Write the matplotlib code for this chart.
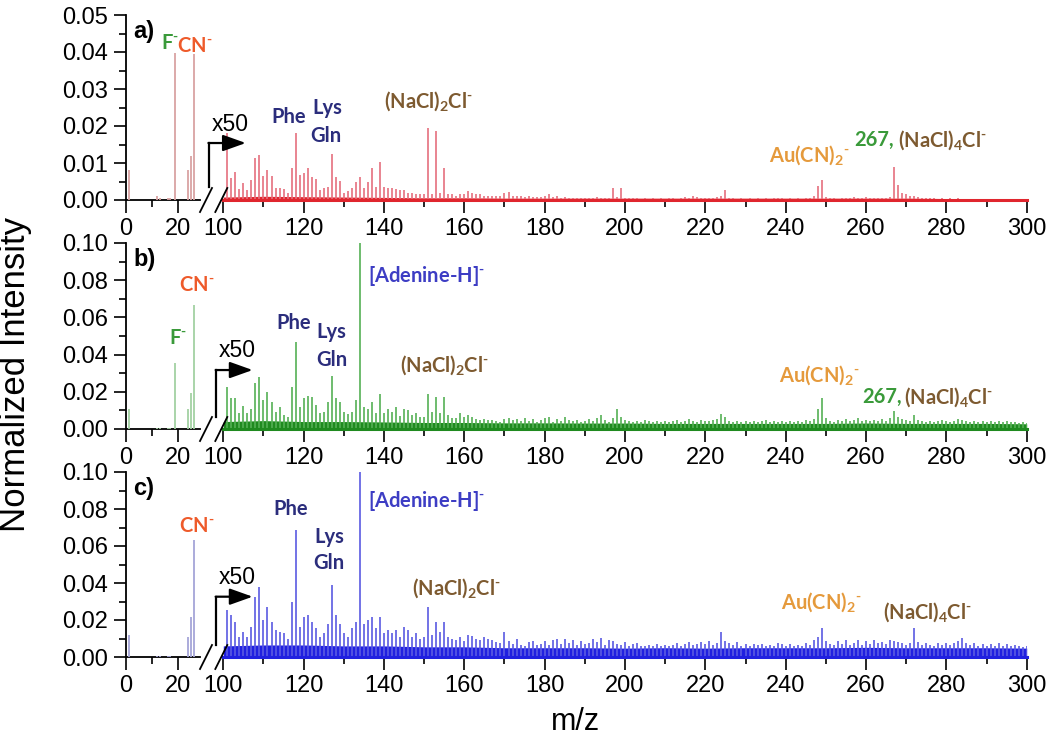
import matplotlib.pyplot as plt
import numpy as np

plt.rcParams['font.family'] = ['Liberation Sans', 'DejaVu Sans']
plt.rcParams['mathtext.fontset'] = 'custom'
plt.rcParams['mathtext.rm'] = 'Lato:bold'
plt.rcParams['mathtext.bf'] = 'Lato:bold'
plt.rcParams['mathtext.it'] = 'Lato:bold'
plt.rcParams['mathtext.default'] = 'rm'

# ---- data: low mass window (raw intensity) ----
mz_lo = [1, 12, 13, 16, 17, 19, 24, 25, 26]
a_lo = [0.008, 0.0012, 0.0006, 0.0005, 0.0006, 0.0397, 0.008, 0.012, 0.0395]
b_lo = [0.011, 0.0008, 0.0005, 0.0004, 0.0005, 0.0353, 0.011, 0.0192, 0.0667]
c_lo = [0.0118, 0.0008, 0.0005, 0.0004, 0.0005, 0.0, 0.011, 0.0218, 0.0632]

# ---- data: m/z 101-300, intensity already multiplied by 50 ----
mz_hi = list(range(101, 301))

a_hi = [0.018, 0.0059, 0.0077, 0.003, 0.0045, 0.0027, 0.0054, 0.0113, 0.0122, 0.0065,
        0.008, 0.0065, 0.0032, 0.0032, 0.003, 0.0018, 0.0086, 0.018, 0.0068, 0.0072,
        0.0086, 0.0061, 0.0057, 0.0027, 0.0032, 0.0036, 0.0123, 0.0061, 0.0052, 0.0018,
        0.0023, 0.0032, 0.005, 0.0063, 0.0032, 0.005, 0.0086, 0.0034, 0.0102, 0.0034,
        0.0032, 0.0032, 0.003, 0.0028, 0.0027, 0.002, 0.0018, 0.0015, 0.0015, 0.0015,
        0.0194, 0.0015, 0.0187, 0.002, 0.0086, 0.0015, 0.0015, 0.001, 0.0015, 0.0015,
        0.0025, 0.0018, 0.0015, 0.0015, 0.0012, 0.0012, 0.001, 0.0012, 0.001, 0.0018,
        0.0022, 0.001, 0.0012, 0.001, 0.0008, 0.001, 0.0008, 0.0007, 0.0008, 0.001,
        0.0015, 0.0008, 0.001, 0.0006, 0.0008, 0.0006, 0.0006, 0.0005, 0.0006, 0.0005,
        0.0006, 0.0005, 0.0008, 0.0005, 0.0006, 0.0005, 0.0032, 0.0008, 0.0032, 0.0006,
        0.0006, 0.0005, 0.0005, 0.0004, 0.0005, 0.0004, 0.0005, 0.0004, 0.0005, 0.0004,
        0.0005, 0.0006, 0.0004, 0.0005, 0.0008, 0.0006, 0.0012, 0.0008, 0.0006, 0.0005,
        0.0006, 0.0005, 0.0008, 0.001, 0.0027, 0.0006, 0.0005, 0.0004, 0.0005, 0.0004,
        0.0005, 0.0004, 0.0005, 0.0004, 0.0005, 0.0004, 0.0005, 0.0006, 0.0005, 0.0004,
        0.0005, 0.0004, 0.0005, 0.0004, 0.0005, 0.0006, 0.001, 0.0038, 0.0054, 0.0008,
        0.0006, 0.0005, 0.0004, 0.0005, 0.0006, 0.0005, 0.0008, 0.0006, 0.0005, 0.0008,
        0.0006, 0.0005, 0.0006, 0.0005, 0.0006, 0.0008, 0.009, 0.004, 0.002, 0.0015,
        0.001, 0.0012, 0.0008, 0.0006, 0.0005, 0.0005, 0.0006, 0.0004, 0.0005, 0.0004,
        0.0005, 0.0004, 0.0005, 0.0004, 0.0004, 0.0003, 0.0004, 0.0003, 0.0004, 0.0003,
        0.0003, 0.0004, 0.0003, 0.0003, 0.0003, 0.0003, 0.0003, 0.0002, 0.0002, 0.0002]

b_hi = [0.0228, 0.0165, 0.0165, 0.0084, 0.0124, 0.0084, 0.011, 0.0245, 0.028, 0.0156,
        0.02, 0.0147, 0.0093, 0.0116, 0.0075, 0.0066, 0.0228, 0.047, 0.012, 0.0165,
        0.018, 0.0174, 0.013, 0.0084, 0.0093, 0.0147, 0.0285, 0.0165, 0.0147, 0.0093,
        0.008, 0.0093, 0.0156, 0.1, 0.012, 0.011, 0.0147, 0.0084, 0.0188, 0.0084,
        0.0105, 0.0093, 0.012, 0.007, 0.0105, 0.0102, 0.0075, 0.0084, 0.0063, 0.0063,
        0.0188, 0.0093, 0.0174, 0.0084, 0.0174, 0.0075, 0.006, 0.006, 0.0084, 0.0066,
        0.0075, 0.0066, 0.0055, 0.005, 0.0055, 0.005, 0.005, 0.0045, 0.004, 0.0055,
        0.006, 0.0048, 0.0055, 0.0042, 0.006, 0.0045, 0.0055, 0.004, 0.005, 0.0058,
        0.0062, 0.004, 0.0055, 0.0045, 0.0065, 0.005, 0.0042, 0.005, 0.0038, 0.0045,
        0.0055, 0.0042, 0.006, 0.0075, 0.0048, 0.004, 0.006, 0.011, 0.0065, 0.005,
        0.0042, 0.0038, 0.0045, 0.0036, 0.005, 0.0042, 0.0038, 0.0045, 0.0036, 0.0045,
        0.0038, 0.0045, 0.005, 0.0036, 0.0045, 0.0055, 0.0042, 0.0038, 0.005, 0.0042,
        0.0045, 0.005, 0.0055, 0.008, 0.0065, 0.0042, 0.0038, 0.0045, 0.0036, 0.0045,
        0.0038, 0.0045, 0.0036, 0.0045, 0.005, 0.0038, 0.0045, 0.0036, 0.0045, 0.0038,
        0.0045, 0.0036, 0.0045, 0.0038, 0.005, 0.0042, 0.0055, 0.0105, 0.0165, 0.006,
        0.0042, 0.0038, 0.005, 0.0042, 0.0055, 0.0042, 0.005, 0.006, 0.0042, 0.005,
        0.0042, 0.005, 0.0042, 0.0055, 0.0045, 0.006, 0.0095, 0.0065, 0.0055, 0.005,
        0.0042, 0.0075, 0.005, 0.0042, 0.0038, 0.0045, 0.0036, 0.0045, 0.005, 0.0042,
        0.0038, 0.0045, 0.0055, 0.005, 0.0042, 0.0038, 0.0045, 0.0036, 0.0045, 0.0038,
        0.0045, 0.0036, 0.0045, 0.0038, 0.0045, 0.0036, 0.004, 0.0034, 0.0038, 0.0034]

c_hi = [0.0254, 0.0227, 0.019, 0.011, 0.0137, 0.011, 0.0164, 0.0326, 0.038, 0.02,
        0.0272, 0.019, 0.0146, 0.0137, 0.0128, 0.01, 0.03, 0.0686, 0.0164, 0.0218,
        0.0227, 0.019, 0.0155, 0.011, 0.0128, 0.018, 0.039, 0.0227, 0.018, 0.0128,
        0.011, 0.0155, 0.019, 0.1, 0.018, 0.02, 0.0218, 0.0155, 0.0218, 0.0128,
        0.0146, 0.0128, 0.0146, 0.011, 0.016, 0.0146, 0.011, 0.0128, 0.01, 0.011,
        0.0272, 0.012, 0.019, 0.0137, 0.019, 0.011, 0.01, 0.009, 0.0106, 0.0088,
        0.012, 0.0114, 0.01, 0.009, 0.011, 0.01, 0.009, 0.0083, 0.0077, 0.0137,
        0.0085, 0.007, 0.0095, 0.0065, 0.006, 0.008, 0.0085, 0.0065, 0.007, 0.0085,
        0.0065, 0.009, 0.0095, 0.007, 0.0095, 0.0075, 0.009, 0.0065, 0.0085, 0.007,
        0.0075, 0.0095, 0.008, 0.0105, 0.0065, 0.009, 0.0085, 0.007, 0.0065, 0.008,
        0.006, 0.007, 0.0075, 0.006, 0.0058, 0.0065, 0.006, 0.007, 0.006, 0.0065,
        0.006, 0.0065, 0.0075, 0.006, 0.007, 0.008, 0.0065, 0.007, 0.008, 0.007,
        0.0085, 0.0065, 0.0075, 0.0135, 0.0085, 0.0075, 0.0065, 0.008, 0.006, 0.007,
        0.006, 0.007, 0.0065, 0.007, 0.006, 0.0065, 0.006, 0.0075, 0.007, 0.006,
        0.007, 0.006, 0.0065, 0.006, 0.0075, 0.0065, 0.009, 0.011, 0.0157, 0.0085,
        0.007, 0.0065, 0.0085, 0.007, 0.009, 0.0065, 0.0075, 0.009, 0.0065, 0.0085,
        0.007, 0.009, 0.0075, 0.008, 0.007, 0.009, 0.0085, 0.008, 0.0075, 0.0065,
        0.0075, 0.0157, 0.008, 0.0065, 0.0075, 0.0065, 0.006, 0.0075, 0.0065, 0.0075,
        0.0065, 0.0075, 0.0085, 0.0105, 0.0075, 0.0065, 0.0075, 0.006, 0.007, 0.006,
        0.007, 0.006, 0.0075, 0.006, 0.007, 0.006, 0.0065, 0.006, 0.0055, 0.006]

# dense noise floor under the spikes (x50), read every 10 m/z
mz_band = list(range(100, 301, 10))
a_band = [0.0008, 0.001, 0.0009, 0.0008, 0.0007, 0.0006, 0.0006, 0.0005, 0.0005, 0.0005, 0.0005,
          0.0005, 0.0005, 0.0005, 0.0005, 0.0005, 0.0005, 0.0005, 0.0004, 0.0004, 0.0004]
b_band = [0.004, 0.0045, 0.004, 0.004, 0.0038, 0.0035, 0.0035, 0.0033, 0.0033, 0.0032, 0.0032,
          0.003, 0.003, 0.003, 0.003, 0.003, 0.0032, 0.003, 0.003, 0.003, 0.0028]
c_band = [0.006, 0.0065, 0.0065, 0.006, 0.006, 0.0055, 0.0055, 0.005, 0.005, 0.005, 0.0048,
          0.005, 0.0048, 0.005, 0.005, 0.005, 0.0052, 0.005, 0.005, 0.005, 0.0048]

assert len(a_hi) == len(b_hi) == len(c_hi) == len(mz_hi)

C_F = '#3a9a3a'
C_CN = '#ee5a2a'
C_AA = '#2b2d7c'
C_NACL = '#7d5a30'
C_AU = '#e59a3c'
C_ADE = '#3d3dc4'

NEG = '$^{\u2010}$'
F_ION = 'F' + NEG
CN_ION = 'CN' + NEG
NACL2 = '(NaCl)$_{2}$Cl' + NEG
NACL4 = '(NaCl)$_{4}$Cl' + NEG
AUCN = 'Au(CN)$_{2}$' + NEG
ADE = '[Adenine-H]' + NEG

panels = [
    dict(tag='a)', lo=a_lo, hi=a_hi, band=a_band, ymax=0.05, ystep=0.01,
         spike='#e5707e', base='#e0262e', low='#d9a3a3',
         arrow=(96.4, 0.0035, 0.0154, 105.6), x50=(101.8, 0.0203),
         lo_text=[(F_ION, 17.0, 0.0424, C_F), (CN_ION, 26.6, 0.0416, C_CN)],
         hi_text=[('Phe', 116.4, 0.0223, C_AA), ('Lys', 126.0, 0.0250, C_AA),
                  ('Gln', 125.6, 0.0172, C_AA), (NACL2, 151.0, 0.0268, C_NACL),
                  (AUCN, 246.0, 0.0122, C_AU)],
         tail=(257.0, 268.0, 0.0162)),
    dict(tag='b)', lo=b_lo, hi=b_hi, band=b_band, ymax=0.10, ystep=0.02,
         spike='#55b055', base='#1f8a1f', low='#a3d1a3',
         arrow=(98.2, 0.0065, 0.0317, 107.3), x50=(103.4, 0.042),
         lo_text=[(F_ION, 20.0, 0.049, C_F), (CN_ION, 27.3, 0.0774, C_CN)],
         hi_text=[('Phe', 117.5, 0.057, C_AA), ('Lys', 127.0, 0.052, C_AA),
                  ('Gln', 127.0, 0.037, C_AA), (ADE, 150.5, 0.082, C_ADE),
                  (NACL2, 155.0, 0.0344, C_NACL), (AUCN, 248.3, 0.029, C_AU)],
         tail=(259.0, 269.5, 0.017)),
    dict(tag='c)', lo=c_lo, hi=c_hi, band=c_band, ymax=0.10, ystep=0.02,
         spike='#5a5ae2', base='#2020e0', low='#a5a5d8',
         arrow=(98.2, 0.0065, 0.0326, 107.3), x50=(103.4, 0.0432),
         lo_text=[(CN_ION, 27.3, 0.0708, C_CN)],
         hi_text=[('Phe', 116.8, 0.080, C_AA), ('Lys', 126.3, 0.065, C_AA),
                  ('Gln', 126.3, 0.051, C_AA), (ADE, 150.5, 0.0843, C_ADE),
                  (NACL2, 158.0, 0.0373, C_NACL), (AUCN, 249.0, 0.0297, C_AU),
                  (NACL4, 275.4, 0.0243, C_NACL)],
         tail=None),
]

W, H = 1050, 736
fig = plt.figure(figsize=(W / 100, H / 100), dpi=100)

rows = [(15, 200), (243, 429), (472, 657)]   # top/bottom of each panel in px
lo_x0, lo_x1 = 126, 200
hi_x0, hi_x1 = 223.3, 1026.7

tick_kw = dict(direction='out', labelsize=17, width=1.2, pad=4)
ann_kw = dict(fontfamily='Lato', fontweight='bold', fontsize=14.5, ha='center', va='center')

for (top, bot), p in zip(rows, panels):
    y0 = 1 - bot / H
    h = (bot - top) / H
    ax_lo = fig.add_axes([lo_x0 / W, y0, (lo_x1 - lo_x0) / W, h])
    ax_hi = fig.add_axes([hi_x0 / W, y0, (hi_x1 - hi_x0) / W, h])

    # spectra
    ax_lo.vlines(mz_lo, 0, p['lo'], colors=p['low'], lw=1.3, zorder=3)
    ax_hi.fill_between(mz_band, 0, p['band'], color=p['base'], lw=0, zorder=3)
    ax_hi.vlines(mz_hi, 0, p['hi'], colors=p['spike'], lw=1.2, zorder=3)
    ax_hi.plot([100, 300], [0, 0], color=p['base'], lw=2.2, zorder=4, clip_on=False)

    for ax in (ax_lo, ax_hi):
        ax.set_ylim(0, p['ymax'])
        ax.spines['top'].set_visible(False)
        ax.spines['right'].set_visible(False)
        for s in ax.spines.values():
            s.set_linewidth(1.3)
        ax.tick_params(which='major', length=9, **tick_kw)
        ax.tick_params(which='minor', length=5, direction='out', width=1.2)
        ax.patch.set_visible(False)

    ax_lo.set_xlim(0, (lo_x1 - lo_x0) / 2.6)
    ax_lo.set_xticks([0, 20])
    ax_lo.set_xticks([10], minor=True)
    ax_lo.set_yticks(np.arange(0, p['ymax'] + 1e-9, p['ystep']))
    ax_lo.set_yticks(np.arange(p['ystep'] / 2, p['ymax'], p['ystep']), minor=True)
    ax_lo.yaxis.set_major_formatter(plt.FormatStrFormatter('%.2f'))

    ax_hi.set_xlim(100, 300)
    ax_hi.set_xticks(range(100, 301, 20))
    ax_hi.set_xticks(range(110, 300, 20), minor=True)
    ax_hi.spines['left'].set_visible(False)
    ax_hi.tick_params(which='both', left=False, labelleft=False)

    # axis break marks
    for cx in (lo_x1 + 6, hi_x0 - 2):
        fig.add_artist(plt.Line2D([(cx - 6) / W, (cx + 6) / W],
                                  [(H - bot - 12) / H, (H - bot + 12) / H],
                                  color='black', lw=1.3))

    # x50 arrow
    xa, ya0, ya1, xtip = p['arrow']
    ax_hi.plot([xa, xa], [ya0, ya1], color='black', lw=1.6, clip_on=False, zorder=5)
    ax_hi.annotate('', xy=(xtip, ya1), xytext=(xa - 0.1, ya1),
                   arrowprops=dict(arrowstyle='-|>,head_length=0.7,head_width=0.25',
                                   color='black', lw=1.6, mutation_scale=20,
                                   shrinkA=0, shrinkB=0),
                   annotation_clip=False)
    ax_hi.text(p['x50'][0], p['x50'][1], 'x50', fontsize=16.5, ha='center', va='center')

    ax_lo.text(0.1, 0.91, p['tag'], transform=ax_lo.transAxes, fontsize=17,
               fontweight='bold', ha='left', va='center')
    for t, x, y, c in p['lo_text']:
        ax_lo.text(x, y, t, color=c, clip_on=False, **ann_kw)
    for t, x, y, c in p['hi_text']:
        ax_hi.text(x, y, t, color=c, **ann_kw)
    if p['tail']:
        x267, xn, yt = p['tail']
        kw = dict(ann_kw, ha='left')
        ax_hi.text(x267, yt, '267,', color=C_F, **kw)
        ax_hi.text(xn, yt, NACL4, color=C_NACL, **kw)

fig.text(16 / W, 1 - 374 / H, 'Normalized Intensity', rotation=90, fontsize=25,
         ha='center', va='center')
fig.text(576 / W, 1 - 722 / H, 'm/z', fontsize=22, ha='center', va='center')

fig.savefig('out.png', dpi=100)
